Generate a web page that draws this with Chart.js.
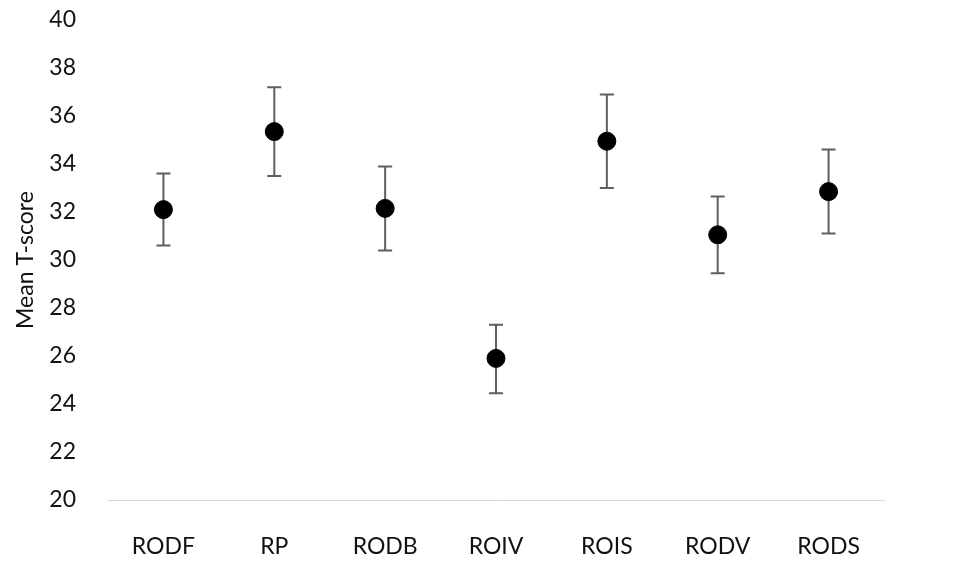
<!DOCTYPE html>
<html>
<head>
<meta charset="utf-8">
<script src="https://cdn.jsdelivr.net/npm/chart.js@4"></script>
<style>
  html, body { margin: 0; padding: 0; background: #fff; }
  #wrap { width: 962px; height: 583px; }
</style>
</head>
<body>
<div id="wrap"><canvas id="tscore-chart" width="962" height="583"></canvas></div>
<script>
// subscales on the x axis
const labels = ['RODF', 'RP', 'RODB', 'ROIV', 'ROIS', 'RODV', 'RODS'];

// mean T-score per subscale, plus the ends of the error bars
const means = [32.1, 35.35, 32.15, 25.9, 34.95, 31.05, 32.85];
const upper = [33.6, 37.2, 33.9, 27.3, 36.9, 32.65, 34.6];
const lower = [30.6, 33.5, 30.4, 24.45, 33.0, 29.45, 31.1];

const yTicks = [20, 22, 24, 26, 28, 30, 32, 34, 36, 38, 40];

const FONT = 'Lato, "Open Sans", sans-serif';

/* draws the vertical whiskers with caps, under the points */
const errorBars = {
  id: 'errorBars',
  beforeDatasetsDraw(chart) {
    const { ctx, scales: { x, y } } = chart;
    ctx.save();
    ctx.strokeStyle = '#5f5f5f';
    ctx.lineWidth = 2;
    for (let i = 0; i < labels.length; i++) {
      const px = x.getPixelForValue(i);
      const top = y.getPixelForValue(upper[i]);
      const bot = y.getPixelForValue(lower[i]);
      ctx.beginPath();
      ctx.moveTo(px, top);
      ctx.lineTo(px, bot);
      ctx.moveTo(px - 7, top);
      ctx.lineTo(px + 7, top);
      ctx.moveTo(px - 7, bot);
      ctx.lineTo(px + 7, bot);
      ctx.stroke();
    }
    ctx.restore();
  },
};

const data = {
  labels: labels,
  datasets: [
    {
      label: 'Mean T-score',
      data: means,
      showLine: false,
      pointRadius: 9,
      pointHoverRadius: 9,
      pointBackgroundColor: '#000',
      pointBorderColor: '#000',
      pointBorderWidth: 1,
    },
  ],
};

const config = {
  type: 'line',
  data,
  plugins: [errorBars],
  options: {
    responsive: false,
    animation: false,
    layout: {
      padding: { top: 20, right: 78, bottom: 0, left: 12 },
    },
    plugins: {
      legend: { display: false },
      tooltip: { enabled: false },
    },
    scales: {
      x: {
        offset: true,
        grid: { display: false },
        border: { display: true, color: '#d9d9d9', width: 1 },
        ticks: {
          color: '#111',
          padding: 25,
          font: { family: FONT, size: 23 },
        },
        afterFit(axis) {
          axis.height = 83;
        },
      },
      y: {
        min: 20,
        max: 40,
        grid: { display: false },
        border: { display: false },
        afterBuildTicks(axis) {
          axis.ticks = yTicks.map((v) => ({ value: v }));
        },
        ticks: {
          color: '#111',
          padding: 24,
          font: { family: FONT, size: 23 },
        },
        title: {
          display: true,
          text: 'Mean T-score',
          color: '#111',
          padding: 0,
          font: { family: FONT, size: 23 },
        },
        afterFit(axis) {
          axis.width = 96;
          axis.paddingTop = 0;
          axis.paddingBottom = 0;
        },
      },
    },
  },
};

new Chart(document.getElementById('tscore-chart'), config);
</script>
</body>
</html>
